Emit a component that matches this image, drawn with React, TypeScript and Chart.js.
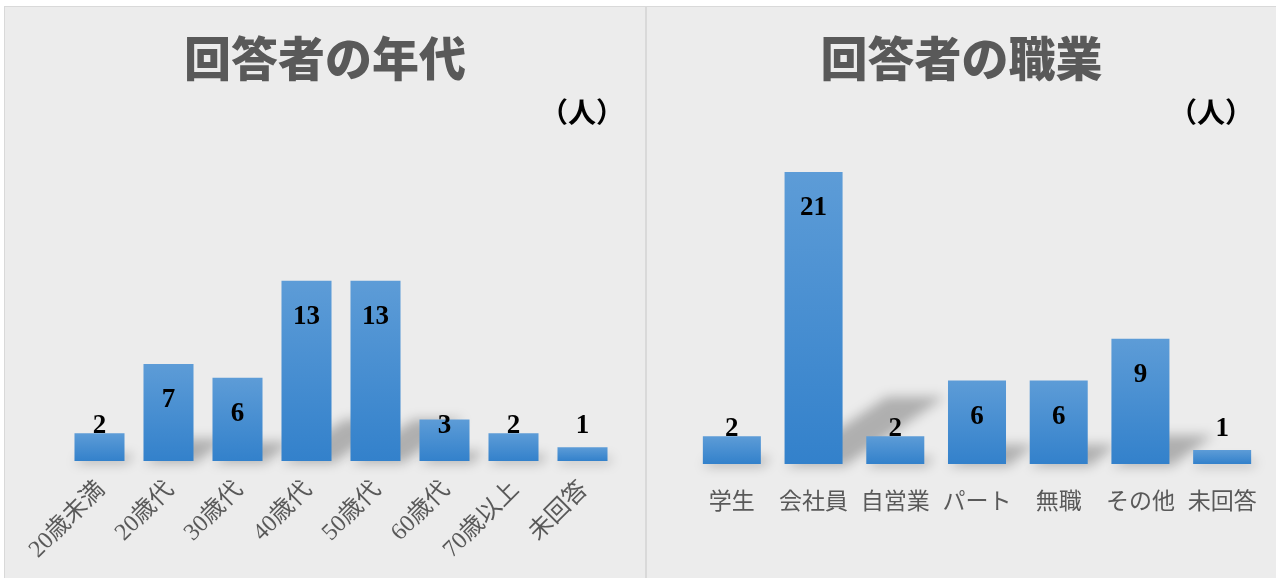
import React, { useEffect, useRef } from 'react';
import { Chart, registerables } from 'chart.js';

Chart.register(...registerables);

const ageCategories = ['20歳未満', '20歳代', '30歳代', '40歳代', '50歳代', '60歳代', '70歳以上', '未回答'];
const ageCounts = [2, 7, 6, 13, 13, 3, 2, 1];
const jobCategories = ['学生', '会社員', '自営業', 'パート', '無職', 'その他', '未回答'];
const jobCounts = [2, 21, 2, 6, 6, 9, 1];
const ageTitle = '回答者の年代';
const jobTitle = '回答者の職業';
const unitLabel = '（人）';
const ageYMax = 14;
const jobYMax = 22;

const SERIF = '"Liberation Serif", "Times New Roman", "Noto Sans CJK JP", serif';
const TITLE_FONT = '"Noto Sans CJK JP", "Noto Sans", sans-serif';

const shadowPlugin = {
  id: 'perspShadow',
  beforeDatasetsDraw(chart: any) {
    const ctx = chart.ctx;
    const meta = chart.getDatasetMeta(0);
    ctx.save();
    ctx.filter = 'blur(6px)';
    ctx.fillStyle = 'rgba(0,0,0,0.26)';
    meta.data.forEach((el: any) => {
      const { x, y, base, width } = el.getProps(['x', 'y', 'base', 'width'], true);
      const h = base - y;
      const l = x - width / 2;
      const r = x + width / 2;
      const dx = h * 0.35;
      const dy = h * 0.23;
      ctx.beginPath();
      ctx.moveTo(l, base + 2);
      ctx.lineTo(r + 2, base + 2);
      ctx.lineTo(r + dx, base - dy);
      ctx.lineTo(l + dx, base - dy);
      ctx.closePath();
      ctx.fill();
    });
    ctx.restore();
  },
};

const valueLabelPlugin = {
  id: 'valueLabels',
  afterDatasetsDraw(chart: any) {
    const ctx = chart.ctx;
    const meta = chart.getDatasetMeta(0);
    const values = chart.data.datasets[0].data;
    ctx.save();
    ctx.font = `bold 27px ${SERIF}`;
    ctx.fillStyle = '#000000';
    ctx.textAlign = 'center';
    ctx.textBaseline = 'middle';
    meta.data.forEach((el: any, i: number) => {
      const { x, y, base } = el.getProps(['x', 'y', 'base'], true);
      const ly = Math.min(y + 36, base - 35);
      ctx.fillText(String(values[i]), x, ly);
    });
    ctx.restore();
  },
};

type PanelProps = {
  labels: string[];
  values: number[];
  yMax: number;
  padding: { left: number; right: number; top: number; bottom: number };
  rotation: number;
  tickPadding: number;
  labelOffset: number;
  tickSize: number;
  axisHeight: number;
  catPct: number;
  width: number;
  height: number;
};

function BarPanel(p: PanelProps) {
  const ref = useRef<HTMLCanvasElement | null>(null);
  useEffect(() => {
    if (!ref.current) return;
    const chart = new Chart(ref.current, {
      type: 'bar',
      data: {
        labels: p.labels,
        datasets: [
          {
            data: p.values,
            borderWidth: 0,
            backgroundColor: (c: any) => {
              const chart = c.chart;
              const ys = chart.scales?.y;
              if (c.type !== 'data' || !ys) return '#4a8fd1';
              const v = c.parsed ? c.parsed.y : c.raw;
              const top = ys.getPixelForValue(v);
              const bot = ys.getPixelForValue(0);
              if (!isFinite(top) || !isFinite(bot) || top === bot) return '#4a8fd1';
              const g = chart.ctx.createLinearGradient(0, top, 0, bot);
              g.addColorStop(0, '#5d9cd7');
              g.addColorStop(1, '#3381cb');
              return g;
            },
            barPercentage: 1,
            categoryPercentage: p.catPct,
          },
        ],
      },
      options: {
        animation: false,
        responsive: false,
        maintainAspectRatio: false,
        layout: { padding: p.padding },
        plugins: {
          legend: { display: false },
          tooltip: { enabled: false },
          title: { display: false },
        },
        scales: {
          x: {
            grid: { display: false, drawTicks: false },
            border: { display: false },
            ticks: {
              color: '#595959',
              font: { family: SERIF, size: p.tickSize },
              padding: p.tickPadding,
              labelOffset: p.labelOffset,
              minRotation: p.rotation,
              maxRotation: p.rotation,
              autoSkip: false,
            },
            afterFit: (s: any) => {
              s.height = p.axisHeight;
              s.paddingLeft = 0;
              s.paddingRight = 0;
            },
          },
          y: {
            display: false,
            min: 0,
            max: p.yMax,
          },
        },
      },
      plugins: [shadowPlugin, valueLabelPlugin],
    });
    return () => chart.destroy();
  }, []);
  return (
    <canvas
      ref={ref}
      width={p.width}
      height={p.height}
      style={{ position: 'absolute', left: 0, top: 0, width: p.width, height: p.height }}
    />
  );
}

const titleStyle: React.CSSProperties = {
  position: 'absolute',
  left: 0,
  right: 0,
  textAlign: 'center',
  fontFamily: TITLE_FONT,
  fontWeight: 900,
  fontSize: 47,
  lineHeight: '47px',
  color: '#595959',
  whiteSpace: 'nowrap',
};

const unitStyle: React.CSSProperties = {
  position: 'absolute',
  fontFamily: TITLE_FONT,
  fontWeight: 700,
  fontSize: 28,
  lineHeight: '28px',
  color: '#000000',
  whiteSpace: 'nowrap',
};

export default function App() {
  return (
    <div
      style={{
        position: 'absolute',
        left: 0,
        top: 0,
        width: 1276,
        height: 578,
        background: '#ffffff',
        overflow: 'hidden',
      }}
    >
      <div
        style={{
          position: 'absolute',
          left: 4,
          top: 6,
          width: 640,
          height: 580,
          background: '#ececec',
          border: '1px solid #d9d9d9',
        }}
      >
        <BarPanel
          labels={ageCategories}
          values={ageCounts}
          yMax={ageYMax}
          padding={{ left: 60, right: 28, top: 260, bottom: 0 }}
          rotation={45}
          tickPadding={15}
          labelOffset={2}
          tickSize={24}
          axisHeight={117}
          catPct={0.725}
          width={640}
          height={571}
        />
        <div style={{ ...titleStyle, top: 25 }}>{ageTitle}</div>
        <div style={{ ...unitStyle, left: 535, top: 90 }}>{unitLabel}</div>
      </div>
      <div
        style={{
          position: 'absolute',
          left: 646,
          top: 6,
          width: 640,
          height: 580,
          background: '#ececec',
          borderLeft: '1px solid #d9d9d9',
          borderTop: '1px solid #d9d9d9',
        }}
      >
        <BarPanel
          labels={jobCategories}
          values={jobCounts}
          yMax={jobYMax}
          padding={{ left: 44, right: 13, top: 151, bottom: 0 }}
          rotation={0}
          tickPadding={25}
          labelOffset={0}
          tickSize={23}
          axisHeight={114}
          catPct={0.71}
          width={629}
          height={571}
        />
        <div style={{ ...titleStyle, top: 25, width: 629 }}>{jobTitle}</div>
        <div style={{ ...unitStyle, left: 522, top: 90 }}>{unitLabel}</div>
      </div>
    </div>
  );
}
